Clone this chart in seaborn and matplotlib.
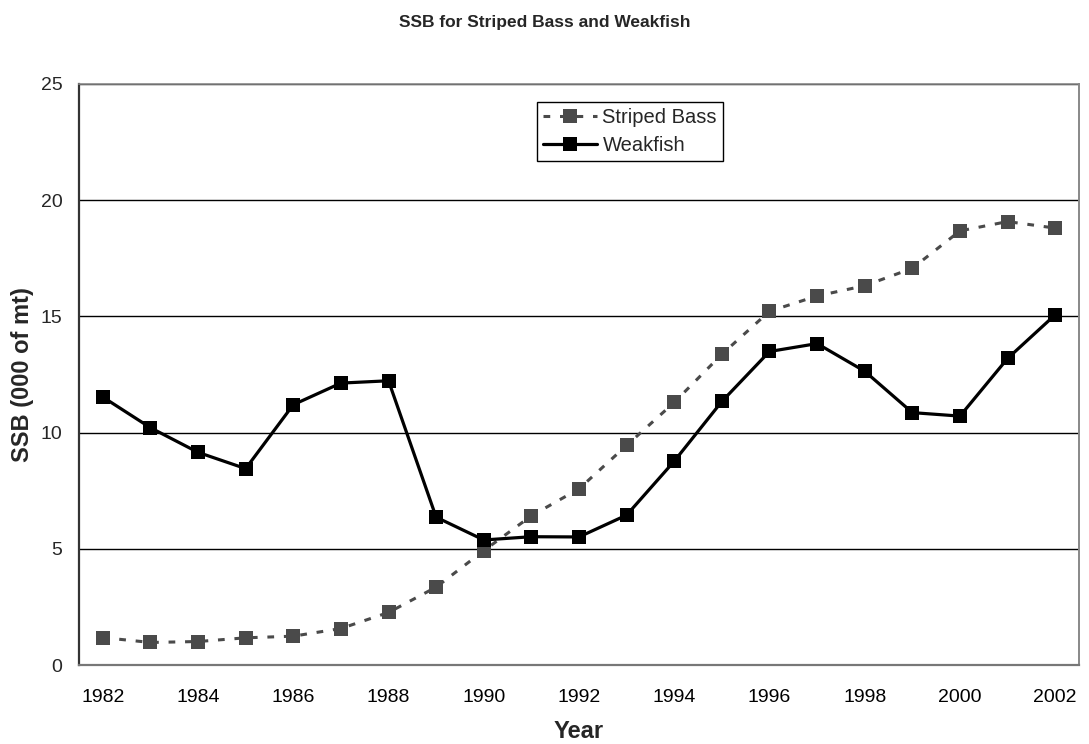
import matplotlib
matplotlib.use("Agg")
import matplotlib.pyplot as plt
from matplotlib.ticker import MultipleLocator, FixedLocator
import seaborn as sns
import pandas as pd

years = list(range(1982, 2003))
striped_bass = [1.18, 0.97, 1.01, 1.17, 1.24, 1.57, 2.26, 3.35, 4.92, 6.42, 7.58,
                9.45, 11.30, 13.37, 15.22, 15.88, 16.32, 17.07, 18.68, 19.08, 18.80]
weakfish = [11.53, 10.21, 9.15, 8.45, 11.20, 12.13, 12.23, 6.36, 5.38, 5.52, 5.51,
            6.45, 8.77, 11.34, 13.49, 13.83, 12.64, 10.86, 10.71, 13.19, 15.07]
year_labels = [str(y) for y in range(1982, 2003, 2)]

sns.set_style("white")
plt.rcParams["font.family"] = ["Liberation Sans", "DejaVu Sans"]

df = pd.DataFrame({"Year": years, "Striped Bass": striped_bass, "Weakfish": weakfish})

fig = plt.figure(figsize=(10.89, 7.44), dpi=100)
ax = fig.add_axes([79 / 1089, 1 - 665 / 744, 1000 / 1089, 581 / 744])

sns.lineplot(data=df, x="Year", y="Striped Bass", ax=ax, color="#4a4a4a",
             linewidth=2.2, linestyle=(0, (2.2, 3.2)), marker="s", markersize=10,
             markeredgewidth=0, label="Striped Bass", zorder=3)
sns.lineplot(data=df, x="Year", y="Weakfish", ax=ax, color="black",
             linewidth=2.3, marker="s", markersize=10, markeredgewidth=0,
             label="Weakfish", zorder=4)

ax.set_xlim(1981.5, 2002.5)
ax.set_ylim(0, 25)

# category-style axis: tick marks between years, labels on every other year
ax.xaxis.set_major_locator(FixedLocator(list(range(1982, 2003, 2))))
ax.set_xticklabels(year_labels)
ax.xaxis.set_minor_locator(FixedLocator([y + 0.5 for y in range(1981, 2003)]))
ax.tick_params(axis="x", which="major", length=0, labelsize=14, pad=17, colors="black")
ax.tick_params(axis="x", which="minor", length=6, width=1, color="black", direction="out")
ax.yaxis.set_major_locator(MultipleLocator(5))
ax.tick_params(axis="y", length=6, width=1, color="black", labelsize=14, direction="out", pad=6)

ax.grid(axis="y", color="black", linewidth=1.0)
ax.grid(axis="x", visible=False)
ax.set_axisbelow(True)

ax.spines["left"].set_color("#333333")
ax.spines["left"].set_linewidth(1.6)
ax.spines["bottom"].set_color("#777777")
ax.spines["bottom"].set_linewidth(1.6)
ax.spines["right"].set_color("#888888")
ax.spines["right"].set_linewidth(1.4)
ax.spines["top"].set_color("#888888")
ax.spines["top"].set_linewidth(1.2)

ax.set_xlabel("Year", fontsize=17, fontweight="bold", labelpad=10)
ax.set_ylabel("SSB (000 of mt)", fontsize=17, fontweight="bold", labelpad=5)
fig.text(0.5, 1 - 27 / 744, "SSB for Striped Bass and Weakfish", fontsize=12.5,
         fontweight="bold", ha="center", va="baseline")

leg = ax.legend(loc="upper left", bbox_to_anchor=(0.458, 0.969), fontsize=14.5,
                frameon=True, fancybox=False, framealpha=1, edgecolor="black",
                handlelength=2.7, handletextpad=0.25, borderpad=0.3,
                labelspacing=0.43, borderaxespad=0)
leg.get_frame().set_linewidth(1.0)

fig.savefig("out.png", dpi=100)
